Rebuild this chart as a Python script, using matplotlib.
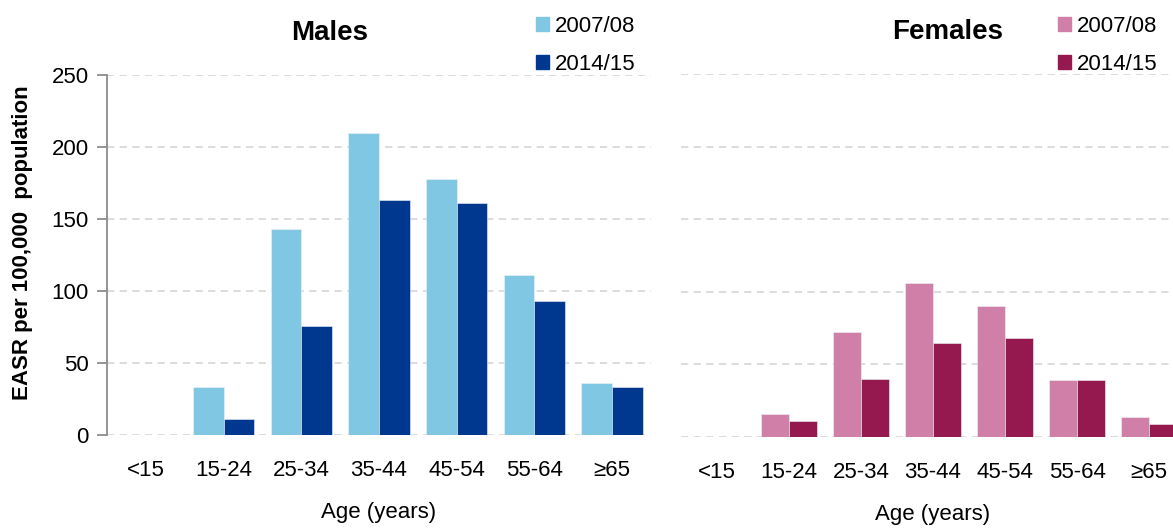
import matplotlib.pyplot as plt
import matplotlib.patches as mpatches
import numpy as np

plt.rcParams['font.family'] = ['Liberation Sans', 'DejaVu Sans']

# Data
age_groups = ['<15', '15-24', '25-34', '35-44', '45-54', '55-64', '\u226565']
years = ['2007/08', '2014/15']
males_0708 = [0, 33, 143, 210, 178, 111, 36]
males_1415 = [0, 11, 76, 163, 161, 93, 33.5]
females_0708 = [0, 16, 72, 106, 90, 39, 14]
females_1415 = [0, 11, 40, 65, 68, 39, 9]
y_ticks = [0, 50, 100, 150, 200, 250]

male_colors = ['#80C7E3', '#00388F']
female_colors = ['#D07FA8', '#95184F']

W, H = 1173, 531
fig = plt.figure(figsize=(W / 100, H / 100), dpi=100)

ax_m = fig.add_axes([107 / W, (H - 435) / H, 544 / W, 360 / H])
ax_f = fig.add_axes([681 / W, (H - 437) / H, 504 / W, 363 / H])

x = np.arange(len(age_groups))
bw = 0.395

for ax, s1, s2, cols in [(ax_m, males_0708, males_1415, male_colors),
                          (ax_f, females_0708, females_1415, female_colors)]:
    ax.bar(x - bw / 2, s1, width=bw, color=cols[0], edgecolor='#EEF3F8', linewidth=0.4, zorder=3)
    ax.bar(x + bw / 2, s2, width=bw, color=cols[1], edgecolor='#EEF3F8', linewidth=0.4, zorder=3)
    ax.set_xlim(-0.5, len(age_groups) - 0.5)
    ax.set_ylim(0, 250)
    ax.set_yticks(y_ticks)
    ax.set_xticks(x)
    ax.set_xticklabels(age_groups, fontsize=16)
    ax.tick_params(axis='x', length=0, pad=18)
    ax.yaxis.grid(True, color='#D9D9D9', linestyle=(0, (4, 3)), linewidth=1.3, zorder=0)
    for sp in ['top', 'right', 'bottom', 'left']:
        ax.spines[sp].set_visible(False)
    ax.set_xlabel('Age (years)', fontsize=16, labelpad=15)

# left panel has a visible y axis
ax_m.spines['left'].set_visible(True)
ax_m.spines['left'].set_color('#8C8C8C')
ax_m.spines['left'].set_linewidth(1.3)
ax_m.tick_params(axis='y', length=7, width=1.3, color='#8C8C8C', labelsize=16, pad=6)

ax_f.tick_params(axis='y', length=0, labelleft=False)

fig.text(23 / W, 1 - 243 / H, 'EASR per 100,000  population', rotation=90,
         ha='center', va='center', fontsize=16, fontweight='bold')

fig.text(330 / W, 1 - 33 / H, 'Males', ha='center', va='center', fontsize=20, fontweight='bold')
fig.text(948 / W, 1 - 32 / H, 'Females', ha='center', va='center', fontsize=20, fontweight='bold')

m_handles = [mpatches.Patch(color=c, label=y) for c, y in zip(male_colors, years)]
f_handles = [mpatches.Patch(color=c, label=y) for c, y in zip(female_colors, years)]

fig.legend(handles=m_handles, loc='upper left', bbox_to_anchor=(527 / W, 1 - 7 / H),
           frameon=False, fontsize=16, handlelength=0.6, handleheight=0.6,
           handletextpad=0.25, labelspacing=0.78, borderaxespad=0)
fig.legend(handles=f_handles, loc='upper left', bbox_to_anchor=(1049 / W, 1 - 7 / H),
           frameon=False, fontsize=16, handlelength=0.6, handleheight=0.6,
           handletextpad=0.25, labelspacing=0.78, borderaxespad=0)

fig.savefig('out.png', dpi=100)
